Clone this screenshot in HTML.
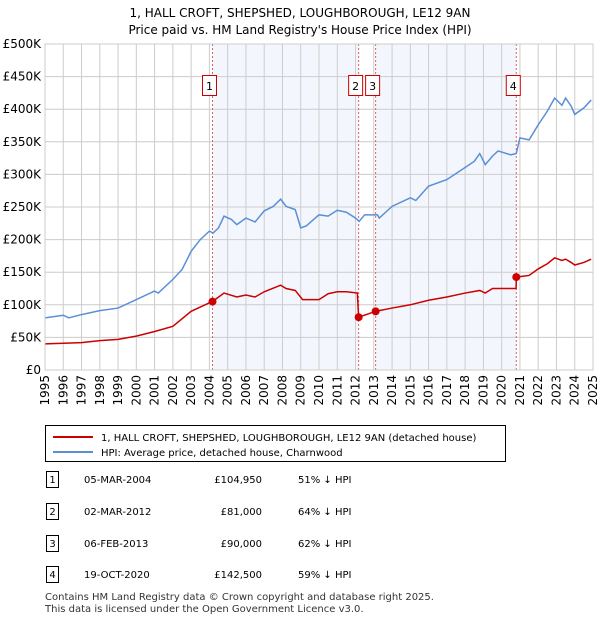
<!DOCTYPE html>
<html><head><meta charset="utf-8"><style>
body{margin:0;background:#fff;font-family:"Liberation Sans","DejaVu Sans",sans-serif;}
svg text{font-family:"DejaVu Sans","Liberation Sans",sans-serif;}
</style></head><body>
<svg id="c" width="600" height="620" xmlns="http://www.w3.org/2000/svg">
<text x="300" y="17" font-size="12" text-anchor="middle">1, HALL CROFT, SHEPSHED, LOUGHBOROUGH, LE12 9AN</text>
<text x="300" y="34" font-size="12" text-anchor="middle">Price paid vs. HM Land Registry's House Price Index (HPI)</text>
<g id="plot"></g>
<g>
<rect x="45.5" y="425.5" width="460" height="36" fill="#fff" stroke="#000"/>
<line x1="53" y1="437" x2="93" y2="437" stroke="#cc0000" stroke-width="2"/>
<text x="101" y="441" font-size="10">1, HALL CROFT, SHEPSHED, LOUGHBOROUGH, LE12 9AN (detached house)</text>
<line x1="53" y1="452" x2="93" y2="452" stroke="#5b8fd6" stroke-width="2"/>
<text x="101" y="456" font-size="10">HPI: Average price, detached house, Charnwood</text>
</g>
<g id="table" font-size="10"></g>
<text x="45" y="600" font-size="10" fill="#333">Contains HM Land Registry data © Crown copyright and database right 2025.</text>
<text x="45" y="612" font-size="10" fill="#333">This data is licensed under the Open Government Licence v3.0.</text>
</svg>
<script>
const hpiYears=[1995,1996,1996.3,1997,1998,1999,2000,2001,2001.2,2002,2002.5,2003,2003.5,2004,2004.2,2004.5,2004.8,2005.2,2005.5,2006,2006.5,2007,2007.5,2007.9,2008.2,2008.7,2009,2009.3,2010,2010.5,2011,2011.5,2012,2012.2,2012.5,2013.2,2013.3,2014,2015,2015.3,2016,2017,2017.7,2018.5,2018.8,2019.1,2019.5,2019.8,2020.5,2020.8,2021,2021.5,2022,2022.5,2022.9,2023.3,2023.5,2023.8,2024,2024.5,2024.9];
const hpiValues=[80,84,80,85,91,95,108,121,118,139,154,182,200,213,210,218,236,231,223,233,227,244,251,262,251,246,218,221,238,236,245,242,233,228,238,238,233,251,264,260,282,292,305,320,332,315,328,336,330,332,356,353,376,397,417,406,417,405,392,402,414];
const redYears=[1995,1997,1998,1999,2000,2001,2002,2003,2004,2004.17,2004.8,2005.5,2006,2006.5,2007,2007.9,2008.2,2008.7,2009.1,2010,2010.5,2011,2011.5,2012.1,2012.17,2013.1,2014,2015,2016,2017,2018,2018.8,2019.1,2019.5,2020.5,2020.79,2020.8,2021.5,2022,2022.5,2022.9,2023.3,2023.5,2023.8,2024,2024.5,2024.9];
const redValues=[40,42,45,47,52,59,67,90,103,105,118,112,115,112,120,130,125,122,108,108,117,120,120,118,81,90,95,100,107,112,118,122,118,125,125,125,142.5,145,155,163,172,168,170,165,161,165,170];
const saleLabels=["1","2","3","4"];
const saleYears=[2004.17,2012.17,2013.1,2020.8];
const saleValues=[104.95,81,90,142.5];
const saleDates=["05-MAR-2004","02-MAR-2012","06-FEB-2013","19-OCT-2020"];
const salePrices=["£104,950","£81,000","£90,000","£142,500"];
const salePct=["51% ↓ HPI","64% ↓ HPI","62% ↓ HPI","59% ↓ HPI"];
const yTicks=[0,50,100,150,200,250,300,350,400,450,500];
const yTickLabels=["£0","£50K","£100K","£150K","£200K","£250K","£300K","£350K","£400K","£450K","£500K"];

const NS="http://www.w3.org/2000/svg";
const X0=45,X1=593,Y0=370,Y1=44;
const xs=y=>X0+(y-1995)/30*(X1-X0);
const ys=v=>Y0-v/500*(Y0-Y1);
function mk(p,t,a){const e=document.createElementNS(NS,t);for(const k in a)e.setAttribute(k,a[k]);p.appendChild(e);return e;}
const plot=document.getElementById('plot');
for(const [a,b] of [[0,1],[2,3]]){
 const r=mk(plot,'rect',{x:xs(saleYears[a]),y:Y1,width:xs(saleYears[b])-xs(saleYears[a]),height:Y0-Y1,fill:'#eef3fc',opacity:0.7});
 
 
}
for(let i=0;i<yTicks.length;i++){
 const g=mk(plot,'line',{x1:X0,x2:X1,y1:ys(yTicks[i]),y2:ys(yTicks[i]),stroke:'#ccc'});
 
 
 const t=mk(plot,'text',{x:X0-4,y:ys(yTicks[i])+4,'font-size':12,'text-anchor':'end'});
 t.textContent=yTickLabels[i];
 
 
}
for(let yr=1995;yr<=2025;yr++){
 const g=mk(plot,'line',{x1:xs(yr),x2:xs(yr),y1:Y1,y2:Y0,stroke:'#ccc'});
 
 
 const t=mk(plot,'text',{x:0,y:0,'font-size':12,'text-anchor':'end',transform:`translate(${xs(yr)+4},375) rotate(-90)`});
 t.textContent=yr;
 
 
}
for(let i=0;i<saleYears.length;i++){
 const l=mk(plot,'line',{x1:xs(saleYears[i]),x2:xs(saleYears[i]),y1:Y1,y2:Y0,stroke:'#e06060','stroke-dasharray':'2,2'});
 
 
}
const hp=mk(plot,'polyline',{points:hpiYears.map((y,i)=>xs(y)+','+ys(hpiValues[i])).join(' '),fill:'none',stroke:'#5b8fd6','stroke-width':1.5});


const rp=mk(plot,'polyline',{points:redYears.map((y,i)=>xs(y)+','+ys(redValues[i])).join(' '),fill:'none',stroke:'#cc0000','stroke-width':1.5});


for(let i=0;i<saleYears.length;i++){
 const c=mk(plot,'circle',{cx:xs(saleYears[i]),cy:ys(saleValues[i]),r:4,fill:'#cc0000'});
 
 
 const bx=xs(saleYears[i])-3;
 const r=mk(plot,'rect',{x:bx-7,y:75.5,width:14,height:20,fill:'#fff',stroke:'#cc0000'});
 
 
 const t=mk(plot,'text',{x:bx,y:90,'font-size':11,'text-anchor':'middle'});
 t.textContent=saleLabels[i];
 
 
}
const ax=mk(plot,'rect',{x:X0,y:Y1,width:X1-X0,height:Y0-Y1,fill:'none',stroke:'#ccc'});


const tb=document.getElementById('table');
const rowY=[482,514,546,577];
for(let i=0;i<4;i++){
 const r=mk(tb,'rect',{x:46.5,y:rowY[i]-10.5,width:12,height:16,fill:'#fff',stroke:'#000'});
 
 
 const cells=[[52.5,saleLabels[i],'middle'],[84,saleDates[i],'start'],[262,salePrices[i],'end'],[298,salePct[i],'start']];
 for(const [x,s,a] of cells){
  const t=mk(tb,'text',{x:x,y:rowY[i]+1,'text-anchor':a});
  t.textContent=s;
  
  
 }
}
</script>
</body></html>
